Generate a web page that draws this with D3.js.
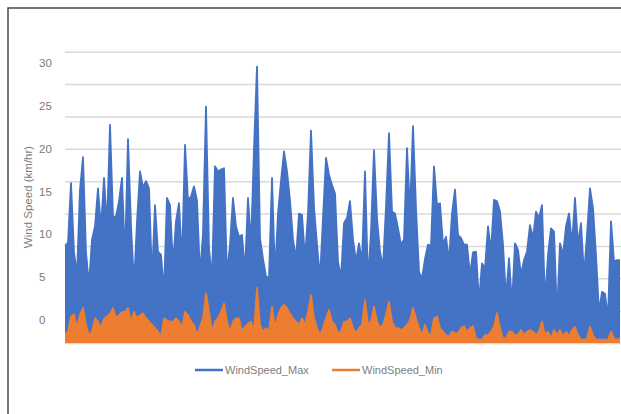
<!DOCTYPE html>
<html>
<head>
<meta charset="utf-8">
<script src="https://cdn.jsdelivr.net/npm/d3@7"></script>
<style>
  html, body { margin: 0; padding: 0; background: #fff; }
  svg { display: block; }
</style>
</head>
<body>
<svg id="chart" width="621" height="414"></svg>
<script>
// ---- data ----
const seriesNames = ["WindSpeed_Max", "WindSpeed_Min"];
const windMax = [
  15, 15.5, 24.7, 14, 10.5, 23.7, 28.7, 14, 9, 16,
  18, 23.9, 17.7, 25.5, 18, 33.7, 19.5, 19.5, 21.9, 25.5,
  13, 31.5, 18.2, 9, 18.7, 26.5, 24, 25, 23.9, 10,
  21.3, 14.1, 13.6, 8, 22.4, 21.3, 12, 18.8, 21.6, 12.6,
  30.6, 22.1, 22.6, 24.2, 22, 10.5, 17, 36.5, 14.6, 10,
  27.3, 26.5, 26.8, 27, 10.5, 15.2, 22.4, 18, 16.4, 16.7,
  11, 22.4, 15.2, 30, 42.7, 16.2, 13, 10.3, 10, 25.5,
  10.5, 20, 25, 29.6, 26.5, 22, 16, 13, 20, 19.8,
  13, 20, 32.8, 21, 15.2, 10, 19.3, 28.6, 26, 24.4,
  23.1, 12.6, 10, 18.5, 19.3, 21.9, 16, 12.6, 15.4, 12.6,
  26.5, 9.5, 17.2, 29.8, 19.3, 14.1, 11.8, 21, 32.4, 20.3,
  20, 17.7, 15.2, 16, 30.1, 20.3, 33.5, 20.8, 11, 10,
  13, 15.2, 15, 27.3, 21.3, 21.6, 15.2, 16.4, 12.6, 20,
  23.7, 16.7, 16.2, 15.2, 15.2, 10.5, 14, 14.1, 6.4, 12.3,
  11.5, 18, 14.1, 22.1, 21.9, 20.3, 15.2, 6.9, 13.1, 6,
  15.4, 14.4, 10.5, 12.8, 14.1, 18.2, 16.2, 20.3, 19.3, 21.3,
  6.4, 13.6, 17.7, 17.2, 4.3, 15.4, 13.6, 18, 20, 15.2,
  22.4, 15.2, 18.5, 10.5, 16.7, 23.9, 20.8, 13.6, 4.8, 7.9,
  7.6, 3.8, 18.8, 12.6, 12.8, 12.8
];
const windMin = [
  1.5, 1.75, 4.1, 4.4, 2.3, 4.4, 5.4, 2.8, 1.2, 1.75,
  3.8, 3.3, 2.3, 3.8, 4.1, 4.5, 5.4, 3.8, 4.3, 4.8,
  4.8, 5.4, 3.3, 4.8, 3.8, 4.3, 4.6, 3.8, 3.3, 2.8,
  2.3, 1.75, 1, 3.8, 3.5, 3.3, 3.3, 3.8, 3.3, 2.3,
  4.8, 4.3, 3.3, 2.8, 1.2, 2.5, 3.8, 7.7, 4.8, 1.75,
  3.3, 3.8, 4.8, 6.1, 3.3, 1.75, 3.3, 3.8, 3.8, 1.75,
  2.5, 3, 3.3, 1.75, 8.5, 2.8, 1.75, 2.3, 1.75, 5.6,
  2.3, 4.3, 5.4, 5.9, 5.4, 4.5, 3.8, 3.3, 2.8, 3.8,
  2.8, 4.8, 7.4, 3.8, 2.3, 1.2, 2.3, 3.8, 5.1, 3.3,
  2.8, 1.5, 1.75, 3.3, 3.3, 3.8, 2.3, 1.5, 2.3, 2.8,
  6.6, 2.8, 3.3, 5.6, 3.3, 2.3, 2.8, 4.3, 6.4, 3.3,
  2.3, 2.3, 2, 2.3, 2.8, 3.5, 5.4, 3.8, 2.3, 1.2,
  2.8, 1.5, 1.2, 3.8, 4.1, 2.3, 1.75, 1.2, 1, 1.75,
  1.5, 1.5, 2.3, 2.6, 1.75, 2.3, 2.6, 0.7, 0.5, 0.5,
  1.2, 1.2, 1.75, 2.6, 4.6, 2.3, 0.7, 0.7, 1.75, 1.75,
  1.2, 1.2, 2, 1.2, 1.75, 2, 1.75, 1.2, 1.75, 3.3,
  1.2, 1.75, 0.7, 2, 1.2, 2, 1, 1.75, 1, 2,
  2.5, 1.2, 0.5, 0.5, 0.7, 2.5, 1.2, 0.5, 0.5, 0.5,
  0.5, 0.5, 1.75, 0.7, 0.5, 0.7
];
const gridValues = [0, 5, 10, 15, 20, 25, 30, 35, 40, 45];
const tickLabels = [0, 5, 10, 15, 20, 25, 30];
const axisTitle = "Wind Speed (km/hr)";
const colors = ["#4472C4", "#ED7D31"];

// ---- drawing ----
const svg = d3.select("#chart");
const plotLeft = 65, plotRight = 621;

// outer chart frame (cropped at right and bottom)
svg.append("rect")
  .attr("x", 8).attr("y", 8)
  .attr("width", 700).attr("height", 500)
  .attr("fill", "none")
  .attr("stroke", "#4a4a4a")
  .attr("stroke-width", 1.5);

const x = d3.scaleLinear().domain([0, windMax.length - 1]).range([plotLeft, 620]);
const y = d3.scaleLinear().domain([0, 45]).range([343, 51.7]);
const yLabel = d3.scaleLinear().domain([0, 30]).range([320, 62.7]);

// gridlines
const grid = svg.append("g")
  .attr("transform", `translate(${plotLeft},0)`)
  .call(d3.axisLeft(y).tickValues(gridValues).tickSize(-(plotRight - plotLeft)).tickFormat(""));
grid.select(".domain").remove();
grid.selectAll(".tick line").attr("stroke", "#d9d9d9").attr("stroke-width", 1.5);

// tick labels
const ax = svg.append("g")
  .attr("transform", "translate(39,0)")
  .call(d3.axisRight(yLabel).tickValues(tickLabels).tickSize(0).tickPadding(0));
ax.select(".domain").remove();
ax.selectAll("text")
  .attr("fill", "#7a7a7a")
  .style("font-family", "'Liberation Sans', Arial, sans-serif")
  .style("font-size", "11.5px");

// axis title
svg.append("text")
  .attr("transform", "translate(32,197) rotate(-90)")
  .attr("text-anchor", "middle")
  .attr("fill", "#808080")
  .style("font-family", "'Liberation Sans', Arial, sans-serif")
  .style("font-size", "11.5px")
  .text(axisTitle);

// series
const series = [windMax, windMin];
const area = d3.area().x((d, i) => x(i)).y0(y(0)).y1(d => y(d));
const line = d3.line().x((d, i) => x(i)).y(d => y(d));
series.forEach((s, k) => {
  svg.append("path").datum(s)
    .attr("d", area)
    .attr("fill", colors[k]);
  svg.append("path").datum(s)
    .attr("d", line)
    .attr("fill", "none")
    .attr("stroke", colors[k])
    .attr("stroke-width", 1.8)
    .attr("stroke-linejoin", "round");
});

// legend
const legendX = [195, 332];
const lg = svg.append("g").selectAll("g").data(seriesNames).join("g")
  .attr("transform", (d, i) => `translate(${legendX[i]},370)`);
lg.append("line")
  .attr("x1", 0).attr("x2", 28).attr("y1", 0).attr("y2", 0)
  .attr("stroke", (d, i) => colors[i]).attr("stroke-width", 2.5);
lg.append("text")
  .attr("x", 30).attr("y", 4)
  .attr("fill", "#808080")
  .style("font-family", "'Liberation Sans', Arial, sans-serif")
  .style("font-size", "11px")
  .text(d => d);
</script>
</body>
</html>
